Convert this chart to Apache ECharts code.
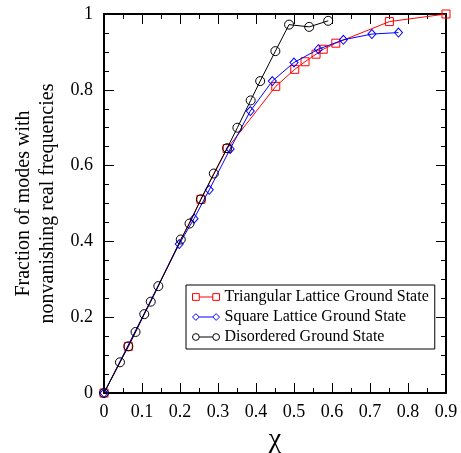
<!DOCTYPE html>
<html>
<head>
<meta charset="utf-8">
<script src="https://cdn.jsdelivr.net/npm/echarts@6/dist/echarts.min.js"></script>
<style>
html,body{margin:0;padding:0;background:#fff;}
#chart{width:461px;height:453px;}
</style>
</head>
<body>
<div id="chart"></div>
<script>
// Triangular Lattice Ground State
var triX = [0, 0.064, 0.255, 0.324, 0.452, 0.502, 0.529, 0.558, 0.577, 0.610, 0.751, 0.9];
var triY = [0, 0.123, 0.511, 0.645, 0.809, 0.854, 0.874, 0.894, 0.907, 0.923, 0.980, 1.0];
// Square Lattice Ground State
var sqX = [0, 0.198, 0.237, 0.277, 0.332, 0.385, 0.443, 0.500, 0.564, 0.630, 0.705, 0.775];
var sqY = [0, 0.393, 0.460, 0.536, 0.644, 0.744, 0.823, 0.872, 0.907, 0.932, 0.947, 0.951];
// Disordered Ground State
var disX = [0, 0.042, 0.064, 0.083, 0.106, 0.123, 0.143, 0.202, 0.225, 0.255, 0.289, 0.324, 0.351, 0.386, 0.411, 0.451, 0.487, 0.540, 0.590];
var disY = [0, 0.081, 0.123, 0.161, 0.208, 0.241, 0.282, 0.405, 0.447, 0.511, 0.579, 0.646, 0.700, 0.772, 0.823, 0.902, 0.972, 0.966, 0.982];

var seriesNames = ['Triangular Lattice Ground State', 'Square Lattice Ground State', 'Disordered Ground State'];
var xTitle = 'χ';
var yTitle = 'Fraction of modes with\nnonvanishing real frequencies';

function pairs(xs, ys) { return xs.map(function (x, i) { return [x, ys[i]]; }); }

var FONT = 'Liberation Serif';
var iconRect = 'path://M0,0H7V7H0Z M7,3.5H21 M21,0H28V7H21Z';
var iconDiamond = 'path://M0,3.5L3.5,0L7,3.5L3.5,7Z M7,3.5H21 M21,3.5L24.5,0L28,3.5L24.5,7Z';
var iconCircle = 'path://M0,3.5A3.5,3.5,0,1,1,7,3.5A3.5,3.5,0,1,1,0,3.5Z M7,3.5H21 M21,3.5A3.5,3.5,0,1,1,28,3.5A3.5,3.5,0,1,1,21,3.5Z';

function axisCommon(extra) {
  var base = {
    type: 'value',
    splitLine: { show: false },
    axisLine: { show: true, onZero: false, lineStyle: { color: '#000', width: 2 } },
    axisTick: { show: true, inside: true, length: 10, lineStyle: { color: '#000', width: 1 } },
    minorTick: { show: true, length: 5, lineStyle: { color: '#000', width: 1 } },
    axisLabel: { color: '#000', fontFamily: FONT, fontSize: 18 }
  };
  for (var k in extra) base[k] = extra[k];
  return base;
}

var chart = echarts.init(document.getElementById('chart'));
chart.setOption({
  animation: false,
  backgroundColor: '#fff',
  grid: { left: 104, right: 15, top: 14, bottom: 60, containLabel: false, outerBoundsMode: 'none' },
  xAxis: [
    axisCommon({ min: 0, max: 0.9, interval: 0.1, position: 'bottom',
      minorTick: { show: true, splitNumber: 2, length: 5, lineStyle: { color: '#000', width: 1 } },
      axisLabel: { color: '#000', fontFamily: FONT, fontSize: 18, margin: 10 },
      name: xTitle, nameLocation: 'middle', nameGap: 24,
      nameTextStyle: { color: '#000', fontFamily: FONT, fontSize: 28 } }),
    axisCommon({ min: 0, max: 0.9, interval: 0.1, position: 'top',
      minorTick: { show: true, splitNumber: 2, length: 5, lineStyle: { color: '#000', width: 1 } },
      axisLabel: { show: false } })
  ],
  yAxis: [
    axisCommon({ min: 0, max: 1, interval: 0.2, position: 'left',
      minorTick: { show: true, splitNumber: 4, length: 5, lineStyle: { color: '#000', width: 1 } },
      axisLabel: { color: '#000', fontFamily: FONT, fontSize: 18, margin: 11 },
      name: yTitle, nameLocation: 'middle', nameGap: 42, nameRotate: 90,
      nameTextStyle: { color: '#000', fontFamily: FONT, fontSize: 20, lineHeight: 24, align: 'center' } }),
    axisCommon({ min: 0, max: 1, interval: 0.2, position: 'right',
      minorTick: { show: true, splitNumber: 4, length: 5, lineStyle: { color: '#000', width: 1 } },
      axisLabel: { show: false } })
  ],
  legend: {
    orient: 'vertical',
    left: 186, top: 285,
    padding: [4, 6, 4, 6],
    itemGap: 4,
    itemWidth: 27, itemHeight: 8,
    borderColor: '#000', borderWidth: 1,
    backgroundColor: '#fff',
    selectedMode: false,
    textStyle: { color: '#000', fontFamily: FONT, fontSize: 16 },
    data: [
      { name: seriesNames[0], icon: iconRect, itemStyle: { color: 'transparent', borderColor: '#ff0000', borderWidth: 1 } },
      { name: seriesNames[1], icon: iconDiamond, itemStyle: { color: 'transparent', borderColor: '#0000ff', borderWidth: 1 } },
      { name: seriesNames[2], icon: iconCircle, itemStyle: { color: 'transparent', borderColor: '#000000', borderWidth: 1 } }
    ]
  },
  series: [
    {
      name: seriesNames[0], type: 'line', data: pairs(triX, triY),
      symbol: 'rect', symbolSize: 8,
      itemStyle: { color: 'transparent', borderColor: '#ff0000', borderWidth: 1 },
      lineStyle: { color: '#ff0000', width: 1 },
      emphasis: { disabled: true }, z: 2
    },
    {
      name: seriesNames[1], type: 'line', data: pairs(sqX, sqY),
      symbol: 'diamond', symbolSize: [8, 9],
      itemStyle: { color: 'transparent', borderColor: '#0000ff', borderWidth: 1 },
      lineStyle: { color: '#0000ff', width: 1 },
      emphasis: { disabled: true }, z: 3
    },
    {
      name: seriesNames[2], type: 'line', data: pairs(disX, disY),
      symbol: 'circle', symbolSize: 9,
      itemStyle: { color: 'transparent', borderColor: '#000000', borderWidth: 1 },
      lineStyle: { color: '#000000', width: 1 },
      emphasis: { disabled: true }, z: 4
    }
  ]
});
</script>
</body>
</html>
